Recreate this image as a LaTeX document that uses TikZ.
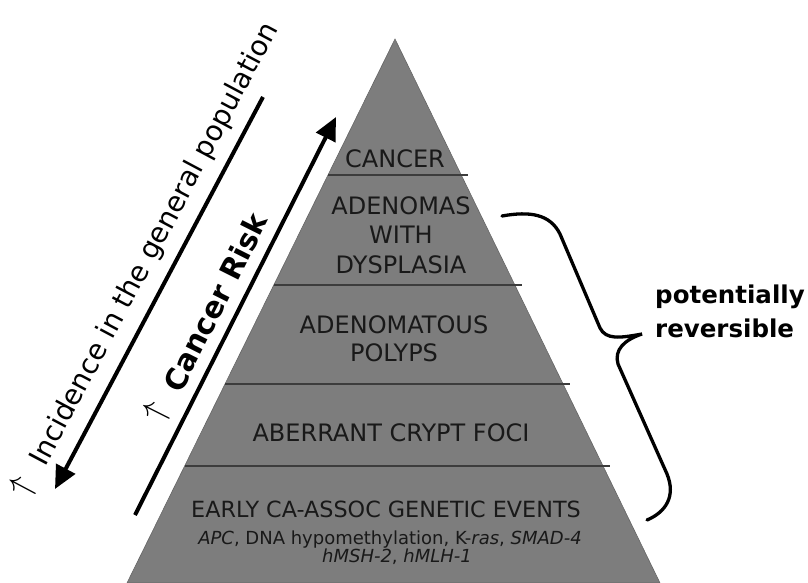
\documentclass[tikz,border=0pt]{standalone}
\usepackage{fontspec}
\setmainfont{DejaVu Sans}
\usetikzlibrary{arrows.meta, calc}
\definecolor{pyramidgray}{HTML}{7D7D7D}
\definecolor{dividergray}{HTML}{3C3C3C}

\begin{document}
\begin{tikzpicture}[
  x=1pt, y=-1pt,
  layer/.style={inner sep=0pt, align=center, font=\fontsize{24}{29.5}\selectfont, text=black!90},
  genes/.style={inner sep=0pt, align=center, font=\fontsize{18}{18}\selectfont, text=black!90},
  slanted/.style={inner sep=0pt, font=\fontsize{28}{28}\selectfont},
  riskfont/.style={inner sep=0pt, font=\fontsize{29.5}{30}\selectfont\bfseries},
  smallup/.style={inner sep=0pt, font=\Huge, scale=1.35},
  bigarrow/.style={-{Triangle[length=23pt, width=21pt]}, line width=4pt},
  divider/.style={draw=dividergray, line width=1.3pt}
]
  \useasboundingbox (0,0) rectangle (808,583);

  % Pyramid
  \coordinate (apex) at (395,39);
  \coordinate (baseL) at (127,583);
  \coordinate (baseR) at (660,583);
  \filldraw[fill=pyramidgray, draw=black!60, line width=0.6pt] (apex) -- (baseL) -- (baseR) -- cycle;
  \foreach \y in {175,285,384,466}
    \draw[divider] ({395-0.4926*(\y-39)},\y) -- ({402+0.4871*(\y-39)},\y);

  % Layer labels
  \node[layer, anchor=base] (cancer) at (395,167) {CANCER};
  \node[layer, anchor=north] (dysplasia) at (401,196) {ADENOMAS\\WITH\\DYSPLASIA};
  \node[layer, anchor=north, font=\fontsize{24}{28.5}\selectfont] (polyps) at (394,315) {ADENOMATOUS\\POLYPS};
  \node[layer, anchor=base] (foci) at (391,441) {ABERRANT CRYPT FOCI};
  \node[layer, anchor=base, font=\fontsize{22.3}{24}\selectfont] (early) at (386,517) {EARLY CA-ASSOC GENETIC EVENTS};
  \node[genes, anchor=north] (genes) at (390,531) {\textit{APC}, DNA hypomethylation, K-\textit{ras}, \textit{SMAD-4}\\\hspace*{14pt}\textit{hMSH-2}, \textit{hMLH-1}};

  % Side arrows
  \coordinate (riskS) at (135,515);
  \coordinate (riskE) at (336,117);
  \coordinate (incS) at (263,97);
  \coordinate (incE) at (55,489);
  \draw[bigarrow] (riskS) -- (riskE);
  \draw[bigarrow] (incS) -- (incE);

  % Side labels
  \node[riskfont, rotate=63.3, anchor=base] (risk) at (225,307) {Cancer Risk};
  \node[smallup, rotate=63.3] (riskup) at (157,412) {$\uparrow$};
  \node[slanted, rotate=62, anchor=base] (incidence) at (162,248) {Incidence in the general population};
  \node[smallup, rotate=62] (incup) at (23,487) {$\uparrow$};

  % Brace
  \coordinate (braceTop) at (502,216);
  \coordinate (braceTip) at (642,334);
  \coordinate (braceBot) at (647,520);
  \draw[line width=3.3pt, line cap=round] (braceTop) .. controls (530,211) and (550,214) .. (560,234)
    -- (600,328) .. controls (606,340) and (620,338) .. (braceTip)
    .. controls (624,340) and (614,350) .. (618,364)
    -- (667,474) .. controls (676,496) and (666,512) .. (braceBot);
  \node[font=\fontsize{24.5}{34}\selectfont\bfseries, align=left, anchor=north west, inner sep=0pt] (reversible) at (655,285) {potentially\\reversible};
\end{tikzpicture}
\end{document}
